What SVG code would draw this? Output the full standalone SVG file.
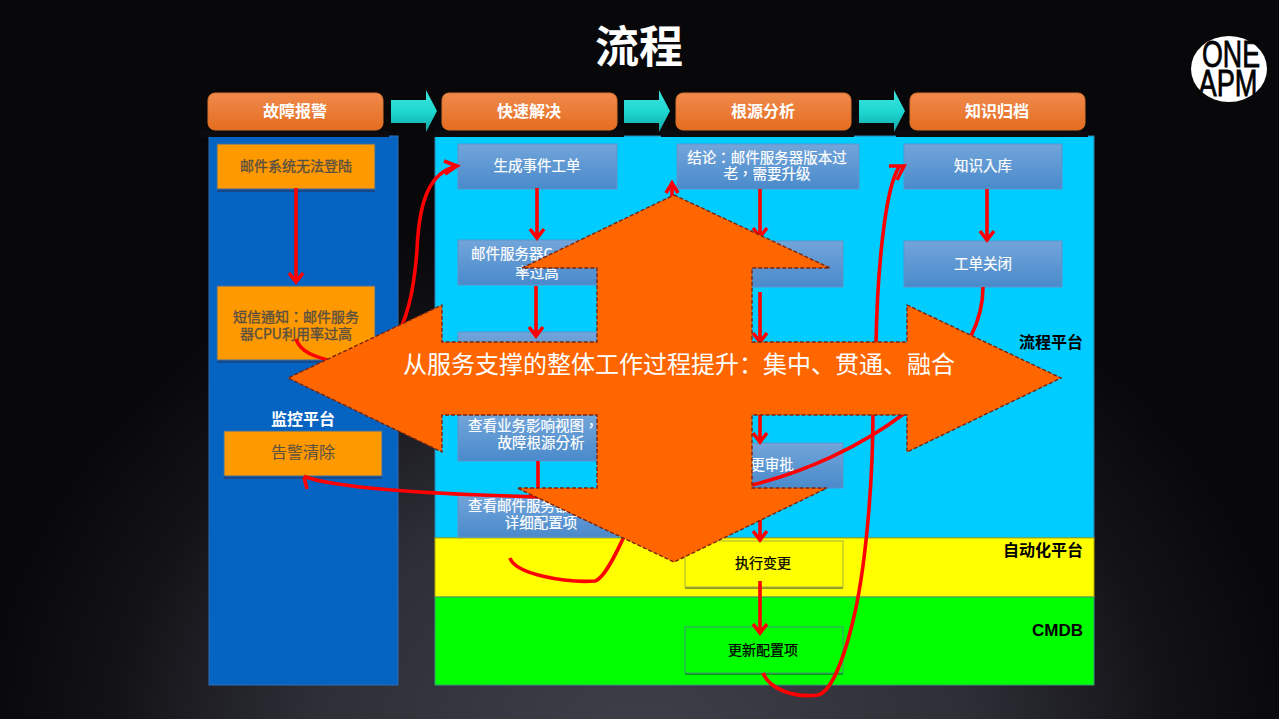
<svg xmlns="http://www.w3.org/2000/svg" width="1279" height="719" viewBox="0 0 1279 719">
<style>
text{font-family:"Noto Sans CJK SC","Liberation Sans",sans-serif;text-anchor:middle}
.hd{font-size:16px;font-weight:700;fill:#fff}
.w{font-family:"Noto Sans CJK TC","Liberation Sans",sans-serif;font-size:14.5px;fill:#fff;stroke:#fff;stroke-width:.2px}
.o{font-family:"Noto Sans CJK TC","Liberation Sans",sans-serif;font-size:14px;fill:#5a5040;stroke:#5a5040;stroke-width:.35px}
.k{font-size:14px;fill:#000;stroke:#000;stroke-width:.25px}
.lb{font-size:16px;font-weight:700;fill:#000;text-anchor:end}
.b{fill:url(#boxg);stroke:#5f93cc;stroke-width:1}
.or{fill:#ff9900;stroke:#3a6ea8;stroke-width:1}
.r{fill:none;stroke:#ff0000;stroke-width:3.6}
.hdr{fill:url(#hdg);stroke:#d9722a;stroke-width:1}
.ar{fill:url(#teal)}
.strip{fill:#0c0c10}
</style>
<defs>
<radialGradient id="bg" gradientUnits="userSpaceOnUse" cx="640" cy="760" r="660" gradientTransform="matrix(1 0 0 .85 0 114)">
<stop offset="0" stop-color="#40404a"/><stop offset=".5" stop-color="#2e2e37"/><stop offset=".8" stop-color="#131317"/><stop offset="1" stop-color="#08080a"/>
</radialGradient>
<linearGradient id="boxg" x1="0" y1="0" x2="0" y2="1"><stop offset="0" stop-color="#72a5da"/><stop offset="1" stop-color="#4a8acb"/></linearGradient>
<linearGradient id="hdg" x1="0" y1="0" x2="0" y2="1"><stop offset="0" stop-color="#f08a4c"/><stop offset="1" stop-color="#e56d20"/></linearGradient>
<linearGradient id="teal" x1="0" y1="0" x2="0" y2="1"><stop offset="0" stop-color="#3fe3dd"/><stop offset=".5" stop-color="#1fd8d2"/><stop offset="1" stop-color="#12a8a6"/></linearGradient>
<path id="arrowshape" d="M0 7H35V-3L46 18L35 39V30H0Z"/>
</defs>
<rect width="1279" height="719" fill="#08080a"/>
<rect width="1279" height="719" fill="url(#bg)"/>

<text x="639" y="63" style="font-size:44px;font-weight:700;fill:#fff">流程</text>

<g id="logo">
<ellipse cx="1229" cy="69" rx="38" ry="33" fill="#fff"/>
<text x="1231" y="67" textLength="58" lengthAdjust="spacingAndGlyphs" style="font-family:'Liberation Sans',sans-serif;font-size:37px;fill:#000;stroke:#000;stroke-width:.8px">ONE</text>
<text x="1228" y="96" textLength="59" lengthAdjust="spacingAndGlyphs" style="font-family:'Liberation Sans',sans-serif;font-size:37px;fill:#000;stroke:#000;stroke-width:.8px">APM</text>
</g>

<g id="panels">
<rect id="panel-monitor" x="209" y="136" width="189" height="549" fill="#0563c1" stroke="#2f6fb5" stroke-width="1"/>
<rect id="panel-process" x="435" y="136" width="659" height="402" fill="#00ccff" stroke="#2f80a8" stroke-width="1"/>
<rect id="panel-auto" x="435" y="538" width="659" height="59" fill="#ffff00" stroke="#b5a800" stroke-width="1"/>
<rect id="panel-cmdb" x="435" y="597" width="659" height="88" fill="#00ff00" stroke="#3a9a7a" stroke-width="1"/>
<rect class="strip" x="200" y="131" width="189" height="6"/>
<rect class="strip" x="434" y="131" width="190" height="6"/>
<rect class="strip" x="661" y="131" width="193" height="6"/>
<rect class="strip" x="896" y="131" width="192" height="6"/>
<text class="lb" x="1083" y="348">流程平台</text>
<text class="lb" x="1083" y="556">自动化平台</text>
<text class="lb" x="1083" y="636" style="font-family:'Liberation Sans',sans-serif;font-size:17px">CMDB</text>
<text x="303" y="425" style="font-size:16px;font-weight:700;fill:#fff">监控平台</text>
</g>

<g id="headers">
<g id="h1"><rect class="hdr" x="208" y="93" width="175" height="37" rx="7"/><text class="hd" x="295" y="117">故障报警</text></g>
<g id="h2"><rect class="hdr" x="442" y="93" width="175" height="37" rx="7"/><text class="hd" x="529" y="117">快速解决</text></g>
<g id="h3"><rect class="hdr" x="676" y="93" width="175" height="37" rx="7"/><text class="hd" x="763" y="117">根源分析</text></g>
<g id="h4"><rect class="hdr" x="910" y="93" width="175" height="37" rx="7"/><text class="hd" x="997" y="117">知识归档</text></g>
<use class="ar" href="#arrowshape" x="391" y="93"/>
<use class="ar" href="#arrowshape" x="624" y="93"/>
<use class="ar" href="#arrowshape" x="859" y="93"/>
</g>

<g id="nodes">
<g id="n-mail"><rect x="217" y="147" width="158" height="45" fill="#174a8c"/><rect class="or" x="217" y="144" width="158" height="45"/><text class="o" x="296" y="171">邮件系统无法登陆</text></g>
<g id="n-sms"><rect x="217" y="289" width="158" height="74" fill="#174a8c"/><rect class="or" x="217" y="286" width="158" height="74"/><text class="o" x="296" y="322">短信通知：邮件服务</text><text class="o" x="296" y="339">器CPU利用率过高</text></g>
<g id="n-clear"><rect x="224" y="434" width="158" height="45" fill="#174a8c"/><rect class="or" x="224" y="431" width="158" height="45"/><text class="o" x="303" y="458" style="font-size:16px;stroke-width:0">告警清除</text></g>

<g id="n-ticket"><rect class="b" x="458" y="144" width="159" height="45"/><text class="w" x="537" y="171">生成事件工单</text></g>
<g id="n-cpu"><rect class="b" x="458" y="240" width="159" height="45"/><text class="w" x="471" y="259" style="text-anchor:start">邮件服务器C</text><text class="w" x="537" y="278">率过高</text></g>
<rect id="n-locate" class="b" x="458" y="332" width="159" height="40"/>
<g id="n-view"><rect class="b" x="458" y="415" width="159" height="46"/><text class="w" x="468" y="431" style="text-anchor:start">查看业务影响视图，</text><text class="w" x="541" y="448">故障根源分析</text></g>
<g id="n-cfg"><rect class="b" x="458" y="495" width="159" height="42"/><text class="w" x="468" y="511" style="text-anchor:start">查看邮件服务器</text><text class="w" x="541" y="528">详细配置项</text></g>

<g id="n-result"><rect class="b" x="677" y="144" width="182" height="45"/><text class="w" x="767" y="163">结论：邮件服务器版本过</text><text class="w" x="767" y="179">老，需要升级</text></g>
<rect id="n-plan" class="b" x="685" y="241" width="158" height="46"/>
<g id="n-approve"><rect class="b" x="685" y="443" width="158" height="45"/><text class="w" x="772" y="470">更审批</text></g>
<g id="n-exec"><rect x="685" y="544" width="158" height="45" fill="#8a9a20"/><rect x="685" y="541" width="158" height="46" fill="#ffff00" stroke="#a8b040" stroke-width="1"/><text class="k" x="763" y="568">执行变更</text></g>
<g id="n-update"><rect x="685" y="630" width="158" height="45" fill="#0aa010"/><rect x="685" y="627" width="158" height="46" fill="#00ff00" stroke="#3a9a7a" stroke-width="1"/><text class="k" x="763" y="655">更新配置项</text></g>

<g id="n-kb"><rect class="b" x="904" y="144" width="158" height="45"/><text class="w" x="983" y="171">知识入库</text></g>
<g id="n-close"><rect class="b" x="904" y="241" width="158" height="46"/><text class="w" x="983" y="269">工单关闭</text></g>
</g>

<g id="connectors">
<path class="r" d="M296 188V281M289 273L296 282L303 273"/>
<path class="r" d="M537 188V237M530 229L537 238L544 229"/>
<path class="r" d="M536 286V335M529 327L536 336L543 327"/>
<path class="r" d="M538 461V488"/>
<path class="r" d="M760 189V236M753 228L760 237L767 228"/>
<path class="r" d="M760 292V341M753 333L760 342L767 333"/>
<path class="r" d="M760 410V441M753 433L760 442L767 433"/>
<path class="r" d="M760 520V539M753 531L760 540L767 531"/>
<path class="r" d="M760 581V632M753 624L760 633L767 624"/>
<path class="r" d="M987 189V239M980 231L987 240L994 231"/>
<path class="r" d="M672 215V184M666 193L672 183L678 193"/>
<path class="r" d="M296 339C300 352 315 357 335 362"/>
<path class="r" d="M390 350C408 320 414 290 417 250C419 200 430 172 457 166M444 161L457 166L445 174"/>
<path class="r" d="M876 345C877 280 884 190 899 167M889 166H904L897 180"/>
<path class="r" d="M873 410C873 480 866 570 852 625C842 665 830 692 818 695C795 698 770 690 763 673"/>
<path class="r" d="M983 287C983 303 979 320 971 336"/>
<path class="r" d="M752 485C805 472 860 447 905 413"/>
<path class="r" d="M540 497C470 495 390 492 345 485C325 482 312 480 304 476M304 477L307 489"/>
<path class="r" d="M627 530C618 550 605 578 595 581C565 583 515 574 510 558"/>
</g>

<g id="cross">
<polygon points="674,195 830,268 752,268 752,342 907,342 907,305 1061,378 907,452 907,415 752,415 752,488 827,488 674,562 517,488 597,488 597,415 442,415 442,452 288,378 442,305 442,342 597,342 597,268 522,268" fill="#ff6600" stroke="#7a2510" stroke-width="1.4" stroke-dasharray="4 2"/>
<text x="679" y="373" style="font-size:24px;font-weight:400;fill:#fff">从服务支撑的整体工作过程提升：集中、贯通、融合</text>
</g>
</svg>
